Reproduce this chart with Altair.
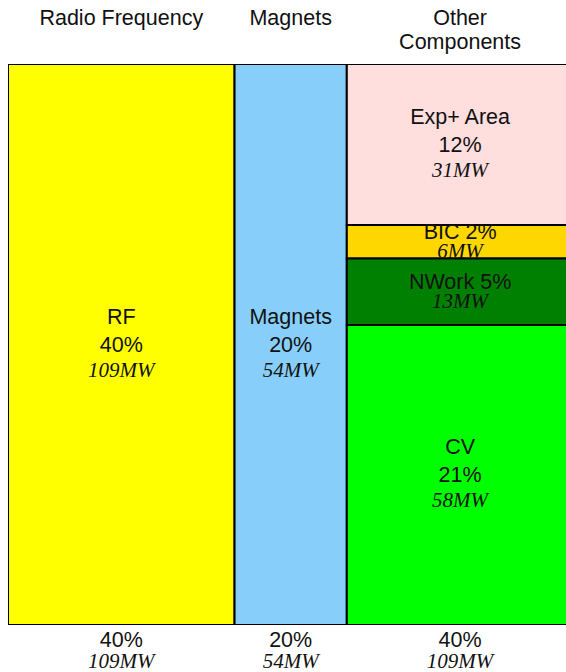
import altair as alt
import pandas as pd

# ---- data ----
columns = ["Radio Frequency", "Magnets", "Other Components"]
column_titles = [["Radio Frequency"], ["Magnets"], ["Other", "Components"]]
column_mw = [109, 54, 109]
column_pct = ["40%", "20%", "40%"]
column_mw_label = ["109MW", "54MW", "109MW"]

seg_names = ["RF", "Magnets", "Exp+ Area", "BIC", "NWork", "CV"]
seg_column = ["Radio Frequency", "Magnets", "Other Components",
              "Other Components", "Other Components", "Other Components"]
seg_mw = [109, 54, 31.3, 6.5, 12.9, 58.3]
seg_pct = ["40%", "20%", "12%", "2%", "5%", "21%"]
seg_mw_label = ["109MW", "54MW", "31MW", "6MW", "13MW", "58MW"]
seg_colors = ["#FFFF00", "#87CEFA", "#FFDEDE", "#FFD700", "#008000", "#00FF00"]
seg_lines = [3, 3, 3, 2, 2, 3]

# ---- build tables ----
col_rows = []
start = 0.0
col_start = {}
for c, t, mw, p, ml in zip(columns, column_titles, column_mw, column_pct, column_mw_label):
    col_start[c] = start
    col_rows.append({"column": c, "title": t, "x0": start, "x1": start + mw,
                     "pct": p, "mwl": ml})
    start += mw
col_df = pd.DataFrame(col_rows)
col_mw_map = dict(zip(columns, column_mw))

seg_rows = []
col_tot = {}
for c, mw in zip(seg_column, seg_mw):
    col_tot[c] = col_tot.get(c, 0) + mw
acc = {}
for n, c, mw, p, ml, nl in zip(seg_names, seg_column, seg_mw, seg_pct, seg_mw_label, seg_lines):
    y0 = acc.get(c, 0.0)
    y1 = y0 + mw / col_tot[c]
    acc[c] = y1
    seg_rows.append({"name": n, "column": c,
                     "x0": col_start[c], "x1": col_start[c] + col_mw_map[c],
                     "y0": y0, "y1": y1, "pct": p, "mwl": ml, "lines": nl})
seg_df = pd.DataFrame(seg_rows)

total_mw = sum(column_mw)
visible_mw = total_mw * 0.987  # right edge is cropped in the reference

xs = alt.Scale(domain=[0, visible_mw], nice=False, zero=False)
ys = alt.Scale(domain=[0, 1], reverse=True, nice=False, zero=False)

SANS = "Liberation Sans"
SERIF = "Liberation Serif"
FS = 21.5
FSI = 21

base = alt.Chart(seg_df)

rects = base.mark_rect(stroke="#000000", strokeWidth=2, clip=True).encode(
    x=alt.X("x0:Q", scale=xs, axis=None),
    x2="x1:Q",
    y=alt.Y("y0:Q", scale=ys, axis=None),
    y2="y1:Q",
    color=alt.Color("name:N", scale=alt.Scale(domain=seg_names, range=seg_colors), legend=None),
)

lab = base.transform_calculate(
    xc="(datum.x0 + datum.x1) / 2",
    yc="(datum.y0 + datum.y1) / 2",
    line1="datum.lines == 3 ? datum.name : datum.name + ' ' + datum.pct",
)
enc = dict(x=alt.X("xc:Q", scale=xs, axis=None), y=alt.Y("yc:Q", scale=ys, axis=None))

name3 = lab.transform_filter("datum.lines == 3").mark_text(
    font=SANS, fontSize=FS, color="#111111", dy=-27, baseline="middle"
).encode(text="line1:N", **enc)
pct3 = lab.transform_filter("datum.lines == 3").mark_text(
    font=SANS, fontSize=FS, color="#111111", dy=1, baseline="middle"
).encode(text="pct:N", **enc)
mw3 = lab.transform_filter("datum.lines == 3").mark_text(
    font=SERIF, fontSize=FSI, fontStyle="italic", color="#111111", dy=26, baseline="middle"
).encode(text="mwl:N", **enc)
name2 = lab.transform_filter("datum.lines == 2").mark_text(
    font=SANS, fontSize=FS, color="#111111", dy=-9, baseline="middle"
).encode(text="line1:N", **enc)
mw2 = lab.transform_filter("datum.lines == 2").mark_text(
    font=SERIF, fontSize=FSI, fontStyle="italic", color="#111111", dy=10, baseline="middle"
).encode(text="mwl:N", **enc)

cbase = alt.Chart(col_df).transform_calculate(xc="(datum.x0 + datum.x1) / 2")
cx = alt.X("xc:Q", scale=xs, axis=None)

titles = cbase.mark_text(
    font=SANS, fontSize=FS, color="#111111", baseline="alphabetic", lineHeight=24
).encode(x=cx, y=alt.value(-39), text="title")
bottom_pct = cbase.mark_text(
    font=SANS, fontSize=FS, color="#111111", baseline="alphabetic"
).encode(x=cx, y=alt.value(583), text="pct:N")
bottom_mw = cbase.mark_text(
    font=SERIF, fontSize=FSI, fontStyle="italic", color="#111111", baseline="alphabetic"
).encode(x=cx, y=alt.value(604), text="mwl:N")

chart = alt.layer(
    rects, name3, pct3, mw3, name2, mw2, titles, bottom_pct, bottom_mw
).properties(
    width=558,
    height=561,
    padding={"left": 8, "top": 64, "right": 0, "bottom": 47},
    autosize=alt.AutoSizeParams(type="none"),
    background="#ffffff",
).configure_view(stroke=None)

chart.save("out.html", embed_options={"renderer": "svg", "actions": False})
